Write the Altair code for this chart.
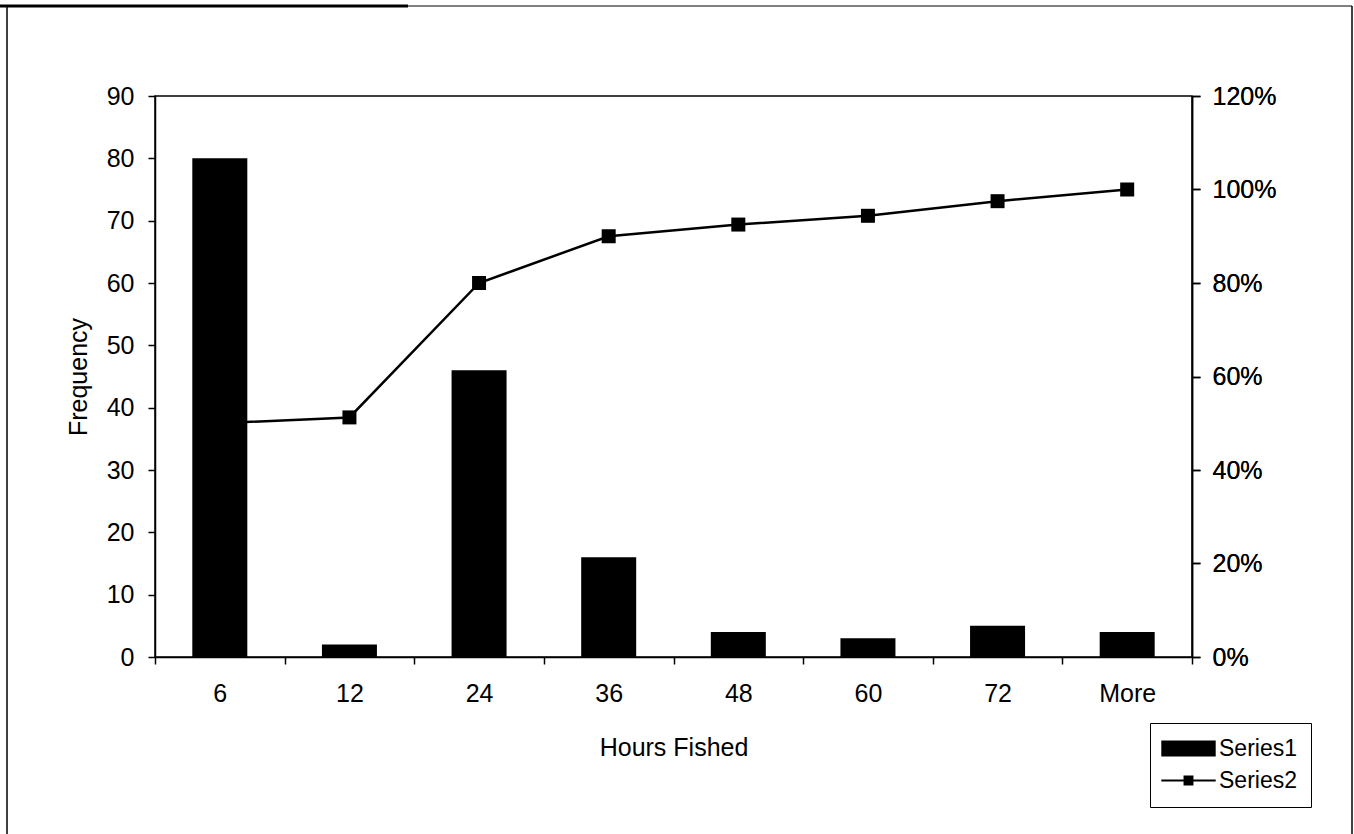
import altair as alt
import pandas as pd

# Histogram of hours fished with cumulative percentage
hours = ["6", "12", "24", "36", "48", "60", "72", "More"]
frequency = [80, 2, 46, 16, 4, 3, 5, 4]
cumulative = [0.50, 0.5125, 0.80, 0.90, 0.925, 0.94375, 0.975, 1.00]
series_names = ["Series1", "Series2"]
freq_ticks = list(range(0, 91, 10))
pct_ticks = [0, 0.2, 0.4, 0.6, 0.8, 1.0, 1.2]

FONT = "Liberation Sans"
FS = 25
W, H = 1037, 561

df = pd.DataFrame({"hours": hours, "frequency": frequency, "cumulative": cumulative})
legend_df = pd.DataFrame({"series": series_names})

x_enc = alt.X(
    "hours:N",
    sort=hours,
    scale=alt.Scale(paddingInner=0, paddingOuter=0),
    axis=alt.Axis(
        title="Hours Fished",
        labelAngle=0,
        tickBand="extent",
        tickSize=7,
        labelPadding=17,
        titlePadding=29,
    ),
)

base = alt.Chart(df)

bars = base.mark_bar(color="black", size=55).encode(
    x=x_enc,
    y=alt.Y(
        "frequency:Q",
        scale=alt.Scale(domain=[0, 90], nice=False),
        axis=alt.Axis(
            title="Frequency",
            values=freq_ticks,
            tickSize=7,
            labelPadding=14,
            titlePadding=15,
        ),
    ),
)

y_pct = alt.Y(
    "cumulative:Q",
    scale=alt.Scale(domain=[0, 1.2], nice=False),
    axis=alt.Axis(
        title=None,
        orient="right",
        values=pct_ticks,
        format=".0%",
        tickSize=8,
        labelPadding=12,
    ),
)

line = base.mark_line(color="black", strokeWidth=2.5).encode(x=x_enc, y=y_pct)
markers = base.mark_square(color="black", size=196, opacity=1).encode(x=x_enc, y=y_pct)

# Legend symbols: a wide block for the bars, a thin line with a square for the cumulative series
bar_symbol = "M-3.4,-1H3.4V1H-3.4Z"
line_symbol = "M-3.4,-0.11H3.4V0.11H-3.4Z M-0.62,-0.62H0.62V0.62H-0.62Z"

legend_layer = alt.Chart(legend_df).mark_point(filled=True, color="black", opacity=0).encode(
    x=alt.value(0),
    y=alt.value(0),
    shape=alt.Shape(
        "series:N",
        scale=alt.Scale(domain=series_names, range=[bar_symbol, line_symbol]),
        legend=alt.Legend(
            title=None,
            orient="none",
            legendX=995,
            legendY=627,
            symbolOffset=13,
            labelOffset=19,
            rowPadding=8,
            padding=14,
            symbolSize=256,
            symbolOpacity=1,
            symbolFillColor="black",
            symbolStrokeColor="black",
            symbolStrokeWidth=0.5,
            labelFont=FONT,
            labelFontSize=23,
            labelColor="black",
            strokeColor="black",
        ),
    ),
)

# Page frame around the whole chart
one = alt.Data(values=[{}])
frame_left = alt.Chart(one).mark_rule(color="black", strokeWidth=1.5).encode(
    x=alt.value(-148), y=alt.value(-90), y2=alt.value(738)
)
frame_right = alt.Chart(one).mark_rule(color="black", strokeWidth=1.5).encode(
    x=alt.value(1197), y=alt.value(-90), y2=alt.value(738)
)
frame_top = alt.Chart(one).mark_rule(color="black", strokeWidth=1).encode(
    x=alt.value(-148), x2=alt.value(1197), y=alt.value(-90)
)
frame_top_heavy = alt.Chart(one).mark_rule(color="black", strokeWidth=3).encode(
    x=alt.value(-155), x2=alt.value(253), y=alt.value(-90)
)

chart = (
    alt.layer(
        bars, line, markers, legend_layer,
        frame_left, frame_right, frame_top, frame_top_heavy,
    )
    .resolve_scale(y="independent")
    .properties(
        width=W,
        height=H,
        autosize=alt.AutoSizeParams(type="none"),
        padding={"left": 155, "top": 96, "right": 162, "bottom": 177},
        background="white",
    )
    .configure_view(stroke="black", strokeWidth=1.5)
    .configure_axis(
        domainColor="black",
        domainWidth=1.5,
        tickColor="black",
        tickWidth=1.5,
        grid=False,
        labelFont=FONT,
        labelFontSize=FS,
        labelColor="black",
        titleFont=FONT,
        titleFontSize=FS,
        titleFontWeight="normal",
        titleColor="black",
    )
    .configure_legend(strokeWidth=1)
)

chart.save("out.html", embed_options={"renderer": "svg", "actions": False})
